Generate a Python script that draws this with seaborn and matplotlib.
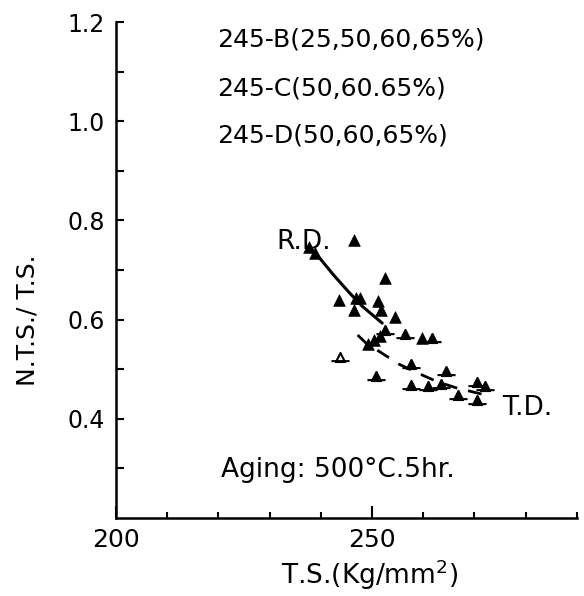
import matplotlib
matplotlib.use("Agg")
import matplotlib.pyplot as plt
from matplotlib.path import Path
import seaborn as sns

# ---- data ----
# R.D. specimens (filled triangles)
rd_x = [237.7, 238.9, 246.4, 252.5, 243.6, 246.8, 247.7, 251.2, 246.5, 251.7,
        254.5, 251.5, 250.3, 249.3, 259.8]
rd_y = [0.746, 0.735, 0.760, 0.684, 0.640, 0.643, 0.643, 0.638, 0.619, 0.619,
        0.605, 0.566, 0.559, 0.551, 0.562]

# T.D. specimens (triangle on a bar)
td_x = [252.6, 256.4, 261.7, 257.7, 250.7, 264.5, 257.7, 261.0, 263.4, 270.6,
        272.1, 266.8, 270.5]
td_y = [0.580, 0.572, 0.562, 0.511, 0.486, 0.497, 0.468, 0.466, 0.470, 0.474,
        0.466, 0.449, 0.437]

# T.D. open triangle on a bar
tdo_x = [243.7]
tdo_y = [0.524]

# trend curves
rd_curve_x = [239.0, 242.5, 245.7, 248.1, 252.0]
rd_curve_y = [0.734, 0.690, 0.653, 0.627, 0.593]
td_curve_x = [247.2, 248.8, 251.7, 255.3, 258.8, 262.7, 266.6, 273.4]
td_curve_y = [0.569, 0.553, 0.534, 0.510, 0.493, 0.475, 0.462, 0.445]

x_major = [200, 250]
x_minor = [210, 220, 230, 240, 260, 270, 280, 290]
y_major = [0.4, 0.6, 0.8, 1.0, 1.2]
y_minor = [0.3, 0.5, 0.7, 0.9, 1.1]
y_labels = ["0.4", "0.6", "0.8", "1.0", "1.2"]
x_labels = ["200", "250"]

series_notes = ["245-B(25,50,60,65%)", "245-C(50,60.65%)", "245-D(50,60,65%)"]

# ---- style ----
sns.set_style("ticks")
plt.rcParams["font.family"] = ["DejaVu Sans"]
plt.rcParams.update({
    "text.color": "black",
    "axes.labelcolor": "black",
    "xtick.color": "black",
    "ytick.color": "black",
    "axes.edgecolor": "black",
})

fig = plt.figure(figsize=(5.84, 5.96), dpi=100)
ax = fig.add_axes([0.1986, 0.1309, 0.789, 0.832])

# triangle sitting on a horizontal bar
bar_tri = Path([(0, 1), (-1, -1), (1, -1), (0, 1), (-2, -0.8), (2, -0.8)],
               [Path.MOVETO, Path.LINETO, Path.LINETO, Path.CLOSEPOLY,
                Path.MOVETO, Path.LINETO])

sns.lineplot(x=rd_curve_x, y=rd_curve_y, sort=False, estimator=None,
             color="black", linewidth=2.2, ax=ax)
sns.lineplot(x=td_curve_x, y=td_curve_y, sort=False, estimator=None,
             color="black", linewidth=2.0, linestyle=(0, (5, 4)), ax=ax)

sns.scatterplot(x=rd_x, y=rd_y, marker="^", s=70, color="black",
                edgecolor="black", linewidth=0.5, ax=ax, zorder=3)
sns.scatterplot(x=td_x, y=td_y, marker=bar_tri, s=170, color="black",
                edgecolor="black", linewidth=1.5, ax=ax, zorder=3)
sns.scatterplot(x=tdo_x, y=tdo_y, marker=bar_tri, s=170, color="white",
                edgecolor="black", linewidth=1.5, ax=ax, zorder=3)

ax.set_xlim(200, 290)
ax.set_ylim(0.2, 1.2)

ax.set_xticks(x_major)
ax.set_xticklabels(x_labels)
ax.set_xticks(x_minor, minor=True)
ax.set_yticks(y_major)
ax.set_yticklabels(y_labels)
ax.set_yticks(y_minor, minor=True)

ax.tick_params(axis="both", which="both", direction="in", width=1.5,
               color="black", labelcolor="black", bottom=True, left=True,
               top=False, right=False)
ax.tick_params(axis="x", which="major", length=8.5, labelsize=18, pad=7)
ax.tick_params(axis="x", which="minor", length=4.5)
ax.tick_params(axis="y", which="both", length=6, labelsize=17, pad=8)

for side in ["top", "right"]:
    ax.spines[side].set_visible(False)
for side in ["left", "bottom"]:
    ax.spines[side].set_linewidth(1.8)
    ax.spines[side].set_color("black")

ax.set_xlabel("T.S.(Kg/mm$^2$)", fontsize=19)
ax.xaxis.label.set_va("center")
ax.xaxis.set_label_coords(0.551, -0.115)
ax.set_ylabel("N.T.S./ T.S.", fontsize=18)
ax.yaxis.label.set_va("center")
ax.yaxis.set_label_coords(-0.191, 0.399)

for note, yy in zip(series_notes, [1.164, 1.067, 0.972]):
    ax.text(219.8, yy, note, fontsize=18, va="center", ha="left")

ax.text(231.3, 0.756, "R.D.", fontsize=19, va="center", ha="left")
ax.text(275.5, 0.422, "T.D.", fontsize=19, va="center", ha="left")
ax.text(220.6, 0.297, "Aging: 500°C.5hr.", fontsize=19, va="center", ha="left")

fig.savefig("out.png", dpi=100)
